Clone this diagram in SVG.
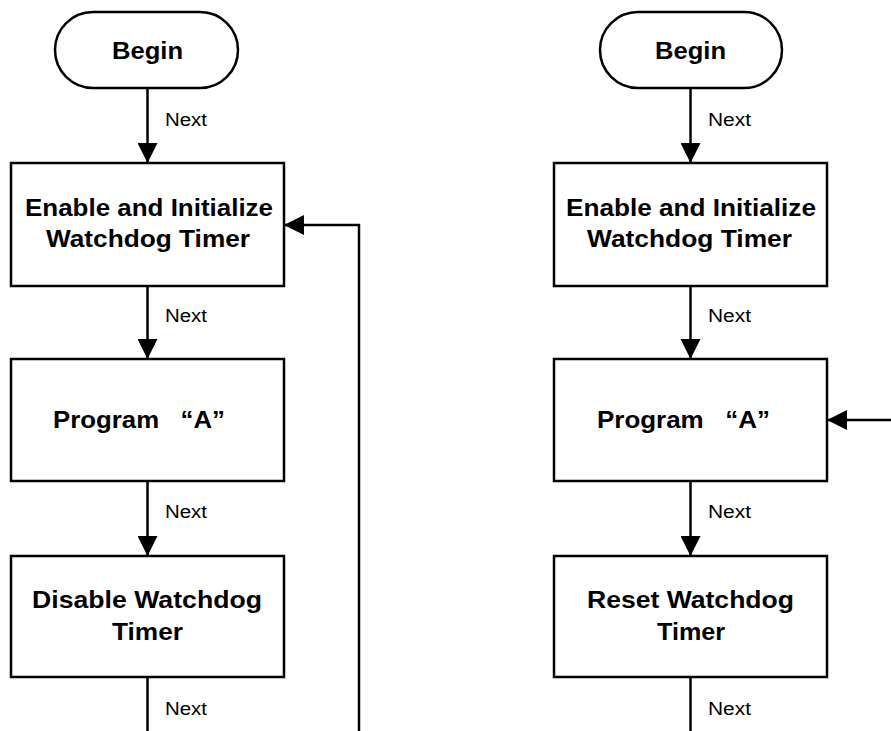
<svg xmlns="http://www.w3.org/2000/svg" width="891" height="731" viewBox="0 0 891 731">
<style>
.box{fill:#fff;stroke:#000;stroke-width:2.5}
.t{font-family:"Liberation Sans",Arial,sans-serif;font-weight:bold;font-size:23px;fill:#000;text-anchor:middle;white-space:pre}
.n{font-family:"Liberation Sans",Arial,sans-serif;font-size:18px;fill:#000}
.c{fill:none;stroke:#000;stroke-width:2.5}
</style>
<defs>
<marker id="ah" markerUnits="userSpaceOnUse" markerWidth="20" markerHeight="20" viewBox="0 0 20 20" refX="20" refY="10" orient="auto">
<path d="M0,0 L20,10 L0,20 Z" fill="#000"/>
</marker>
</defs>
<rect width="891" height="731" fill="#fff"/>
<g id="connectors">
<line class="c" x1="147.5" y1="88" x2="147.5" y2="163" marker-end="url(#ah)"/>
<line class="c" x1="147.5" y1="286" x2="147.5" y2="359" marker-end="url(#ah)"/>
<line class="c" x1="147.5" y1="481" x2="147.5" y2="556" marker-end="url(#ah)"/>
<line class="c" x1="147.5" y1="677" x2="147.5" y2="731"/>
<polyline class="c" points="359,731 359,225 284,225" marker-end="url(#ah)"/>
<line class="c" x1="690.5" y1="88" x2="690.5" y2="163" marker-end="url(#ah)"/>
<line class="c" x1="690.5" y1="286" x2="690.5" y2="359" marker-end="url(#ah)"/>
<line class="c" x1="690.5" y1="481" x2="690.5" y2="556" marker-end="url(#ah)"/>
<line class="c" x1="690.5" y1="677" x2="690.5" y2="731"/>
<line class="c" x1="891" y1="420" x2="827" y2="420" marker-end="url(#ah)"/>
<text class="n" x="165" y="126" textLength="42" lengthAdjust="spacingAndGlyphs">Next</text>
<text class="n" x="165" y="322" textLength="42" lengthAdjust="spacingAndGlyphs">Next</text>
<text class="n" x="165" y="518" textLength="42" lengthAdjust="spacingAndGlyphs">Next</text>
<text class="n" x="165" y="715" textLength="42" lengthAdjust="spacingAndGlyphs">Next</text>
<text class="n" x="708" y="126" textLength="43" lengthAdjust="spacingAndGlyphs">Next</text>
<text class="n" x="708" y="322" textLength="43" lengthAdjust="spacingAndGlyphs">Next</text>
<text class="n" x="708" y="518" textLength="43" lengthAdjust="spacingAndGlyphs">Next</text>
<text class="n" x="708" y="715" textLength="43" lengthAdjust="spacingAndGlyphs">Next</text>
</g>
<g id="begin-left">
<rect class="box" x="55" y="12" width="183" height="76" rx="38" ry="38"/>
<text class="t" x="147.5" y="59" textLength="71" lengthAdjust="spacingAndGlyphs">Begin</text>
</g>
<g id="enable-left">
<rect class="box" x="11" y="163" width="273" height="123"/>
<text class="t" x="149" y="216" textLength="248" lengthAdjust="spacingAndGlyphs">Enable and Initialize</text>
<text class="t" x="148" y="247" textLength="204" lengthAdjust="spacingAndGlyphs">Watchdog Timer</text>
</g>
<g id="program-left">
<rect class="box" x="11" y="359" width="273" height="122"/>
<text class="t" x="139" y="428" textLength="172" lengthAdjust="spacingAndGlyphs">Program   “A”</text>
</g>
<g id="disable-left">
<rect class="box" x="11" y="556" width="273" height="121"/>
<text class="t" x="147" y="608" textLength="230" lengthAdjust="spacingAndGlyphs">Disable Watchdog</text>
<text class="t" x="147.5" y="640" textLength="71" lengthAdjust="spacingAndGlyphs">Timer</text>
</g>
<g id="begin-right">
<rect class="box" x="600" y="12" width="182" height="76" rx="38" ry="38"/>
<text class="t" x="690.5" y="59" textLength="71" lengthAdjust="spacingAndGlyphs">Begin</text>
</g>
<g id="enable-right">
<rect class="box" x="554" y="163" width="273" height="123"/>
<text class="t" x="691" y="216" textLength="250" lengthAdjust="spacingAndGlyphs">Enable and Initialize</text>
<text class="t" x="689.5" y="247" textLength="205" lengthAdjust="spacingAndGlyphs">Watchdog Timer</text>
</g>
<g id="program-right">
<rect class="box" x="554" y="359" width="273" height="122"/>
<text class="t" x="683.5" y="428" textLength="173" lengthAdjust="spacingAndGlyphs">Program   “A”</text>
</g>
<g id="reset-right">
<rect class="box" x="554" y="556" width="273" height="121"/>
<text class="t" x="690.5" y="608" textLength="207" lengthAdjust="spacingAndGlyphs">Reset Watchdog</text>
<text class="t" x="691" y="640" textLength="68" lengthAdjust="spacingAndGlyphs">Timer</text>
</g>
</svg>
